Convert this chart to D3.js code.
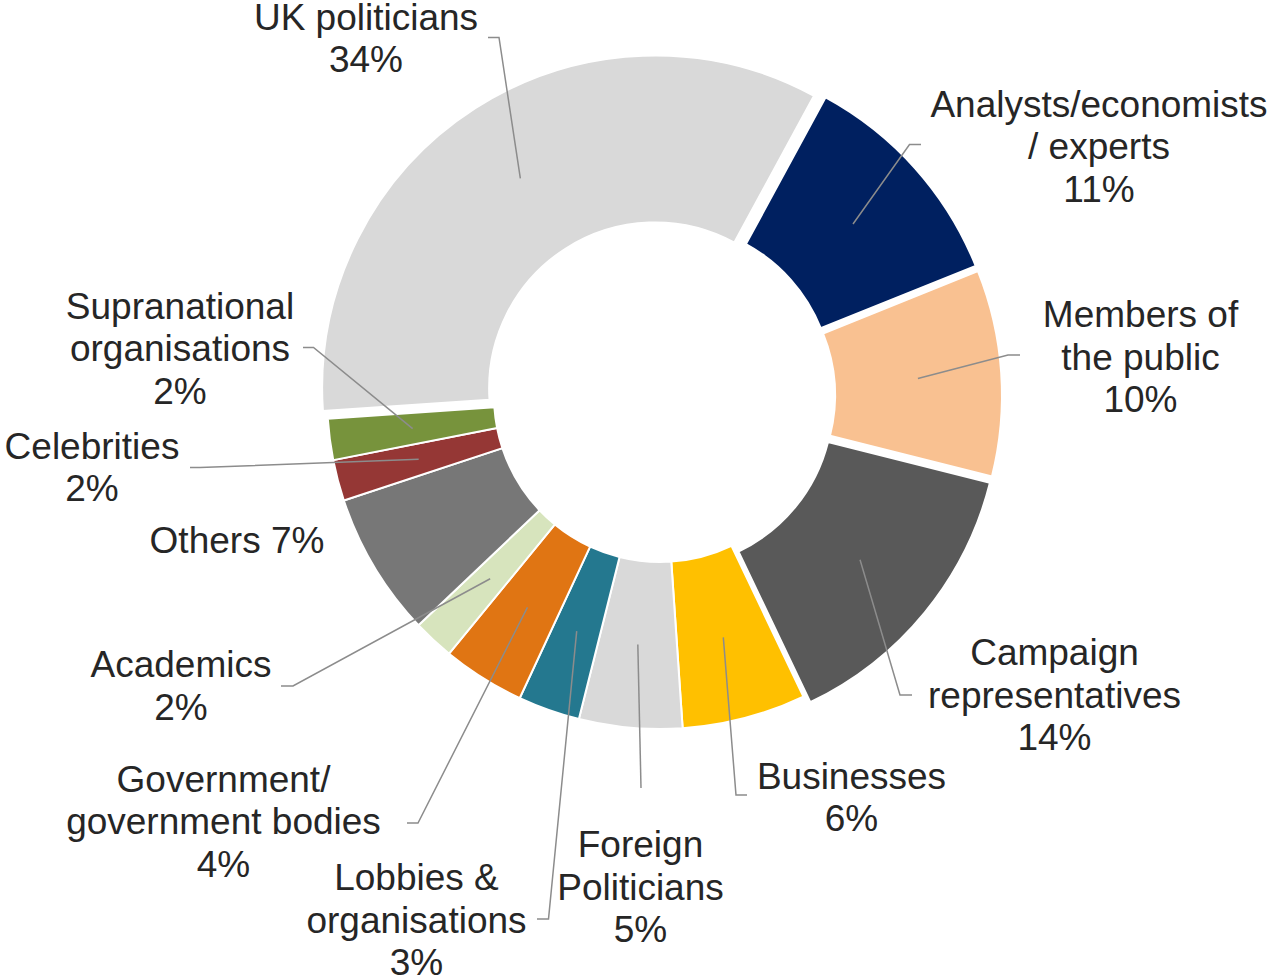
<!DOCTYPE html>
<html>
<head>
<meta charset="utf-8">
<script src="https://cdn.jsdelivr.net/npm/d3@7"></script>
<style>
  html, body { margin: 0; padding: 0; background: #ffffff; }
  svg { display: block; }
  text { font-family: "Liberation Sans", Arial, Helvetica, sans-serif; }
</style>
</head>
<body>
<svg id="chart" width="1270" height="980"></svg>
<script>
// Share of sources by type (per cent), listed clockwise
const categories = [
  "Analysts/economists / experts",
  "Members of the public",
  "Campaign representatives",
  "Businesses",
  "Foreign Politicians",
  "Lobbies & organisations",
  "Government/ government bodies",
  "Academics",
  "Others",
  "Celebrities",
  "Supranational organisations",
  "UK politicians"
];
const shares = [11, 10, 14, 6, 5, 3, 4, 2, 7, 2, 2, 34];

// Label text broken into lines
const labelLines = [
  ["Analysts/economists", "/ experts"],
  ["Members of", "the public"],
  ["Campaign", "representatives"],
  ["Businesses"],
  ["Foreign", "Politicians"],
  ["Lobbies &", "organisations"],
  ["Government/", "government bodies"],
  ["Academics"],
  ["Others"],
  ["Celebrities"],
  ["Supranational", "organisations"],
  ["UK politicians"]
];

const sliceColors = [
  "#002060", "#F9C191", "#595959", "#FFC000", "#D9D9D9", "#24788F",
  "#E07513", "#D7E4BD", "#777777", "#953735", "#77933C", "#D9D9D9"
];

// Slices pulled out from the ring
const explodedSlices = new Set([
  "Analysts/economists / experts",
  "Members of the public",
  "Campaign representatives",
  "UK politicians"
]);

// Label placement: text centre x, first baseline y, leader start and elbow
const labelLayout = [
  { x: 1099,  y: 116.5, lead: [[921, 144.5], [909.5, 144.5]] },
  { x: 1140.5, y: 327,  lead: [[1020, 355], [1008, 355]] },
  { x: 1054.5, y: 665,  lead: [[912, 695], [900, 695]] },
  { x: 851.5, y: 788.5, lead: [[747, 795], [736, 795]] },
  { x: 640.5, y: 857,   lead: [[641, 788]] },
  { x: 416.5, y: 890,   lead: [[537, 919], [548.5, 919]] },
  { x: 223.5, y: 791.5, lead: [[407, 823], [418, 823]] },
  { x: 181,   y: 677,   lead: [[281, 686], [293, 686]] },
  { x: 237,   y: 553,   lead: null, inline: true },
  { x: 92,    y: 458.5, lead: [[190, 467.5], [200, 467.5]] },
  { x: 180,   y: 318.5, lead: [[303, 347.5], [313.5, 347.5]] },
  { x: 366,   y: 29.5,  lead: [[488, 37.5], [499, 37.5]] }
];

const rows = categories.map((name, i) => ({
  name,
  share: shares[i],
  color: sliceColors[i],
  lines: labelLines[i],
  layout: labelLayout[i]
}));

const cx = 660, cy = 396;
const outerR = 333, innerR = 166;
const explodeDist = 9;
const startAngle = 28.5 * Math.PI / 180;
const lineHeight = 42.5;

const svg = d3.select("#chart");
svg.append("rect").attr("width", 1270).attr("height", 980).attr("fill", "#ffffff");

const pie = d3.pie()
  .value(d => d.share)
  .sort(null)
  .startAngle(startAngle)
  .endAngle(startAngle + 2 * Math.PI);

const arc = d3.arc().innerRadius(innerR).outerRadius(outerR);

const arcs = pie(rows);

function offsetOf(d) {
  if (!explodedSlices.has(d.data.name)) return [0, 0];
  const mid = (d.startAngle + d.endAngle) / 2;
  return [explodeDist * Math.sin(mid), -explodeDist * Math.cos(mid)];
}

const ring = svg.append("g").attr("transform", `translate(${cx},${cy})`);

ring.selectAll("path.slice")
  .data(arcs)
  .join("path")
  .attr("class", "slice")
  .attr("d", arc)
  .attr("transform", d => {
    const [dx, dy] = offsetOf(d);
    return `translate(${dx},${dy})`;
  })
  .attr("fill", d => d.data.color)
  .attr("stroke", "#ffffff")
  .attr("stroke-width", 2)
  .attr("stroke-linejoin", "miter");

// Leader lines from each label to its slice
const leaders = svg.append("g");
arcs.forEach(d => {
  const lay = d.data.layout;
  if (!lay.lead) return;
  const [dx, dy] = offsetOf(d);
  const c = arc.centroid(d);
  const anchor = [cx + c[0] + dx, cy + c[1] + dy];
  const pts = lay.lead.concat([anchor]);
  leaders.append("path")
    .attr("d", d3.line()(pts))
    .attr("fill", "none")
    .attr("stroke", "#8C8C8C")
    .attr("stroke-width", 1.5);
});

// Category labels with their shares
const labels = svg.append("g")
  .attr("font-size", 37)
  .attr("fill", "#262626")
  .attr("text-anchor", "middle");

arcs.forEach(d => {
  const lay = d.data.layout;
  const pct = `${d.data.share}%`;
  const lines = lay.inline
    ? [`${d.data.lines.join(" ")} ${pct}`]
    : d.data.lines.concat([pct]);
  const t = labels.append("text");
  lines.forEach((ln, i) => {
    t.append("tspan")
      .attr("x", lay.x)
      .attr("y", lay.y + i * lineHeight)
      .text(ln);
  });
});
</script>
</body>
</html>
